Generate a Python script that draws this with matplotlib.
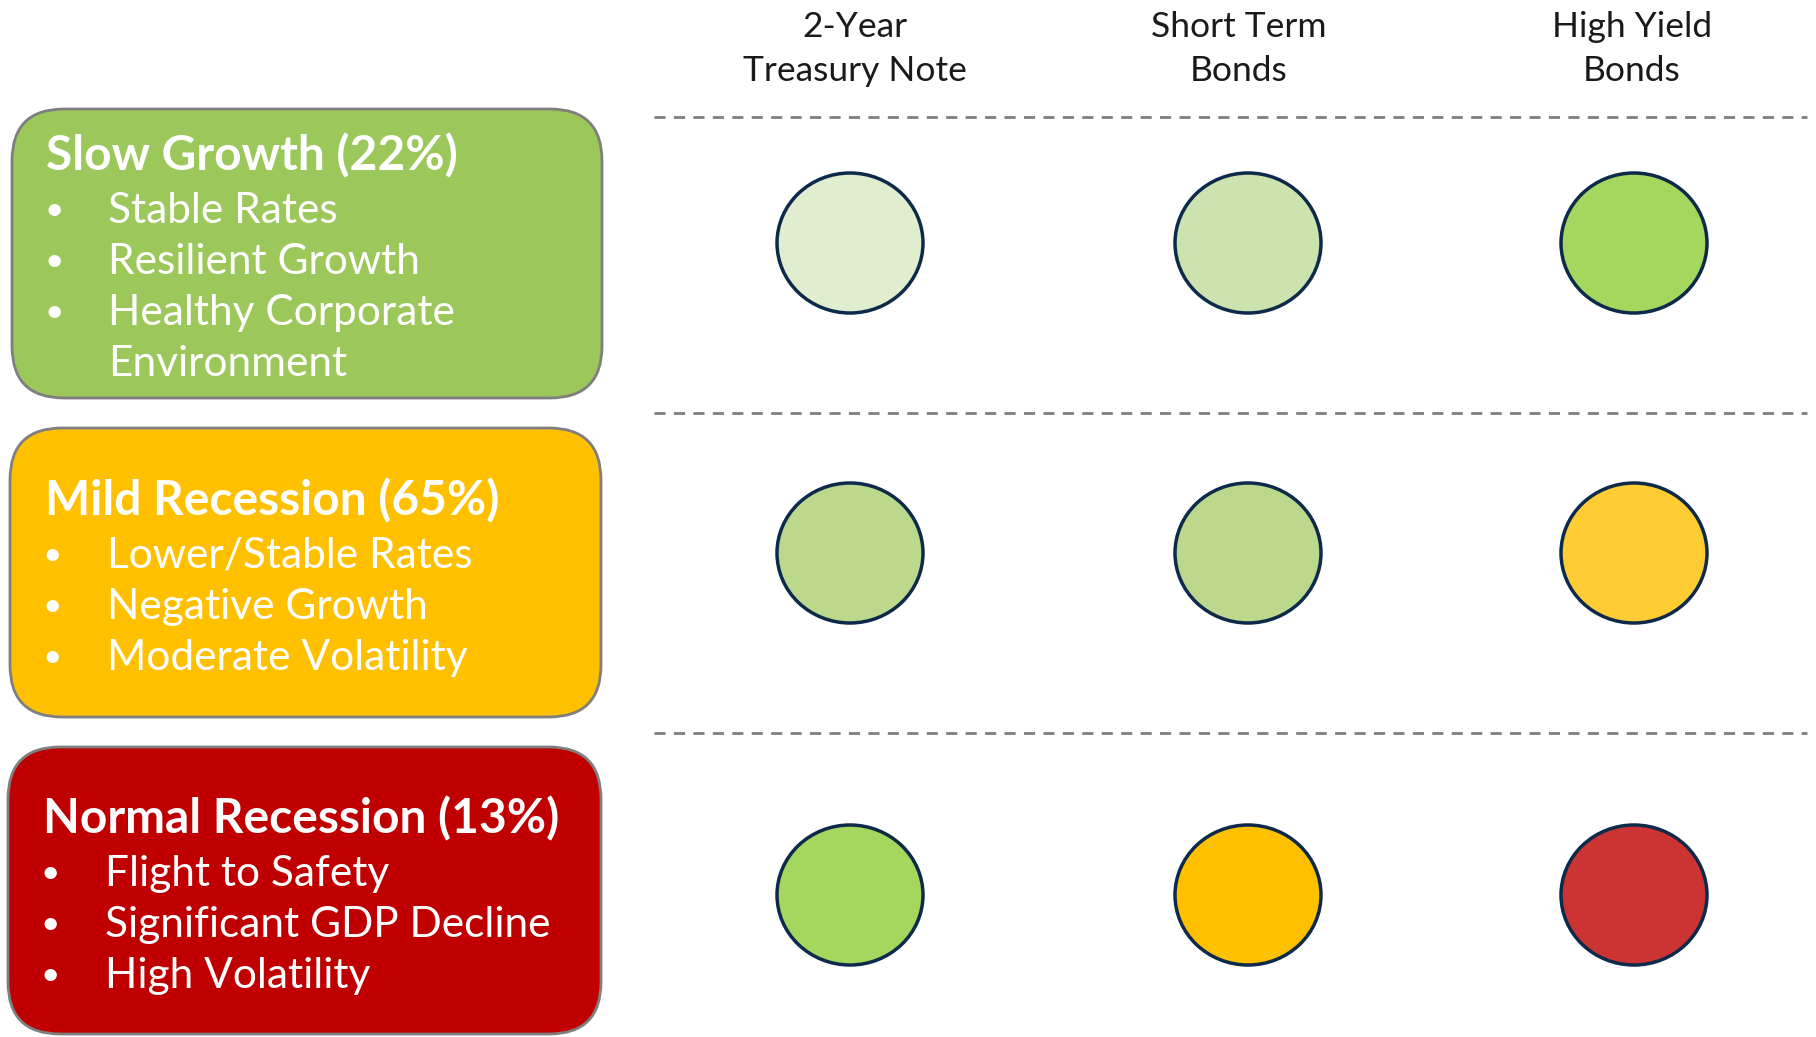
import matplotlib
matplotlib.use("Agg")
from matplotlib import pyplot as plt
from matplotlib.patches import FancyBboxPatch, Ellipse

plt.rcParams['font.family'] = ['Lato', 'DejaVu Sans']

# data
assets = ["2-Year\nTreasury Note", "Short Term\nBonds", "High Yield\nBonds"]
scenarios = ["Slow Growth", "Mild Recession", "Normal Recession"]
probabilities = [22, 65, 13]
bullets = [
    ["Stable Rates", "Resilient Growth", "Healthy Corporate\nEnvironment"],
    ["Lower/Stable Rates", "Negative Growth", "Moderate Volatility"],
    ["Flight to Safety", "Significant GDP Decline", "High Volatility"],
]
box_colors = ["#9BC75B", "#FFC000", "#C00000"]
circle_colors = [
    ["#E0EDCF", "#CDE3AF", "#A5D65D"],
    ["#BBD88D", "#BBD88D", "#FFCC33"],
    ["#A5D65D", "#FFC000", "#CC3333"],
]

# layout in pixels
W, H = 1816, 1037
fig = plt.figure(figsize=(W / 100, H / 100), dpi=100)
ax = fig.add_axes([0, 0, 1, 1])
ax.set_xlim(0, W)
ax.set_ylim(H, 0)
ax.axis("off")

col_x = [850, 1248, 1634]
head_x = [855, 1239, 1632]
row_y = [243, 553, 895]
dash_y = [117, 413, 733]
boxes = [(12, 109, 590, 289), (10, 428, 591, 289), (8, 747, 593, 287)]
title_y = [156, 501, 819]
title_x = [46, 45, 43]

# column headers
for lx, label in zip(head_x, assets):
    ax.text(lx, 49, label, ha="center", va="center", fontsize=25.5,
            color="#1a1a1a", linespacing=1.45)

# dashed separators
for y in dash_y:
    ax.plot([654, 1807], [y, y], ls=(0, (4, 3)), color="#7f7f7f", lw=2)

# scenario boxes
for i, (x0, y0, bw, bh) in enumerate(boxes):
    r = 52
    box = FancyBboxPatch((x0 + r, y0 + r), bw - 2 * r, bh - 2 * r,
                         boxstyle=f"round,pad={r}", fc=box_colors[i],
                         ec="#7f7f7f", lw=2)
    ax.add_patch(box)
    ax.text(title_x[i], title_y[i], f"{scenarios[i]} ({probabilities[i]}%)",
            ha="left", va="center", fontsize=34.5, fontweight="bold", color="white")
    y = title_y[i] + 55
    for b in bullets[i]:
        ax.text(title_x[i] - 2, y, "\u2022", ha="left", va="center",
                fontsize=24, color="white")
        for line in b.split("\n"):
            ax.text(title_x[i] + 62, y, line, ha="left", va="center",
                    fontsize=30.5, color="white")
            y += 51

# circles
for i, yc in enumerate(row_y):
    for j, xc in enumerate(col_x):
        ax.add_patch(Ellipse((xc, yc), 146, 140, fc=circle_colors[i][j],
                             ec="#0d2a4a", lw=2.5))

fig.savefig("out.png", dpi=100, facecolor="white")
